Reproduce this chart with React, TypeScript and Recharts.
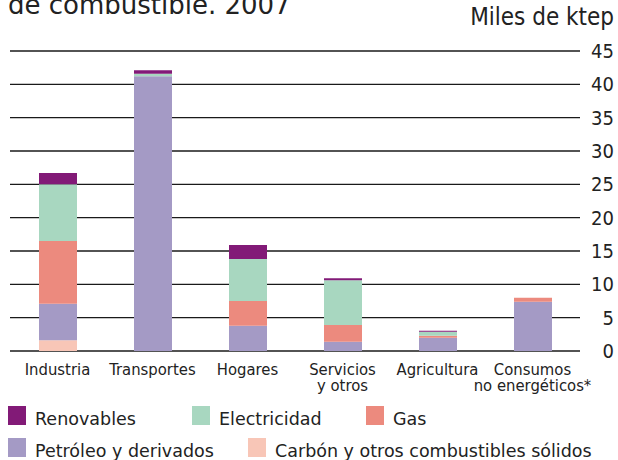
import React from 'react'
import { BarChart, Bar, XAxis, YAxis, CartesianGrid } from 'recharts'

document.body.style.margin = '0'

const categories = ['Industria', 'Transportes', 'Hogares', 'Servicios\ny otros', 'Agricultura', 'Consumos\nno energéticos*']
const carbon      = [1.6, 0, 0, 0, 0, 0]
const petroleo    = [5.5, 41.2, 3.8, 1.4, 2.0, 7.4]
const gas         = [9.4, 0, 3.7, 2.5, 0.3, 0.6]
const electricidad = [8.5, 0.4, 6.3, 6.7, 0.6, 0]
const renovables  = [1.7, 0.5, 2.1, 0.3, 0.15, 0]
const yTicks = [0, 5, 10, 15, 20, 25, 30, 35, 40, 45]

const series = [
  { key: 'carbon', name: 'Carbón y otros combustibles sólidos', color: '#f8c6b7', values: carbon },
  { key: 'petroleo', name: 'Petróleo y derivados', color: '#a49ac5', values: petroleo },
  { key: 'gas', name: 'Gas', color: '#ec8a7e', values: gas },
  { key: 'electricidad', name: 'Electricidad', color: '#a8d7c0', values: electricidad },
  { key: 'renovables', name: 'Renovables', color: '#821a77', values: renovables },
]

const data = categories.map((name, i) => {
  const row: Record<string, string | number> = { name }
  series.forEach(s => { row[s.key] = s.values[i] })
  return row
})

const COND = "'DejaVu Sans Condensed', 'DejaVu Sans', sans-serif"
const SANS = "'DejaVu Sans', sans-serif"

const legendRows = [
  [
    { key: 'renovables', left: 8 },
    { key: 'electricidad', left: 192 },
    { key: 'gas', left: 366 },
  ],
  [
    { key: 'petroleo', left: 8 },
    { key: 'carbon', left: 248 },
  ],
]

function CategoryTick({ x, y, payload }: any) {
  const lines = String(payload.value).split('\n')
  return (
    <text x={x} y={y} textAnchor="middle" fill="#222" fontFamily={COND} fontStretch="condensed" fontSize={16.5}>
      {lines.map((l, i) => (
        <tspan key={i} x={x} dy={16}>{l}</tspan>
      ))}
    </text>
  )
}

function ValueTick({ x, y, payload }: any) {
  return (
    <text x={x + 26} y={y} textAnchor="end" dominantBaseline="central" fill="#222" fontFamily={COND} fontStretch="condensed" fontSize={20}>
      {payload.value}
    </text>
  )
}

export default function App() {
  return (
    <div style={{ position: 'relative', width: 618, height: 460, overflow: 'hidden', background: '#fff' }}>
      <div style={{ position: 'absolute', left: 8, top: -10, fontFamily: SANS, fontSize: 26, color: '#222', whiteSpace: 'nowrap' }}>
        de combustible. 2007
      </div>
      <div style={{ position: 'absolute', right: 4, top: 3, fontFamily: COND, fontStretch: 'condensed', fontSize: 24, color: '#222', whiteSpace: 'nowrap' }}>
        Miles de ktep
      </div>

      <BarChart width={618} height={460} data={data} margin={{ top: 51, right: 0, left: 10, bottom: 0 }} barSize={38}>
        <CartesianGrid horizontal vertical={false} stroke="#1a1a1a" strokeWidth={1.3} />
        <XAxis dataKey="name" interval={0} axisLine={false} tickLine={false} height={109} tick={<CategoryTick />} />
        <YAxis orientation="right" domain={[0, 45]} ticks={yTicks} width={38} axisLine={false} tickLine={false} tick={<ValueTick />} />
        {series.map(s => (
          <Bar key={s.key} dataKey={s.key} name={s.name} stackId="a" fill={s.color} isAnimationActive={false} />
        ))}
      </BarChart>

      {legendRows.map((row, r) => row.map(item => {
        const s = series.find(x => x.key === item.key)!
        const top = r === 0 ? 406 : 438
        return (
          <div key={item.key} style={{ position: 'absolute', left: item.left, top, display: 'flex', alignItems: 'flex-start', whiteSpace: 'nowrap' }}>
            <div style={{ width: 18, height: 19, background: s.color }} />
            <span style={{ marginLeft: 9, fontFamily: SANS, fontSize: 17.5, color: '#222', lineHeight: '20px', marginTop: 3 }}>{s.name}</span>
          </div>
        )
      }))}
    </div>
  )
}
